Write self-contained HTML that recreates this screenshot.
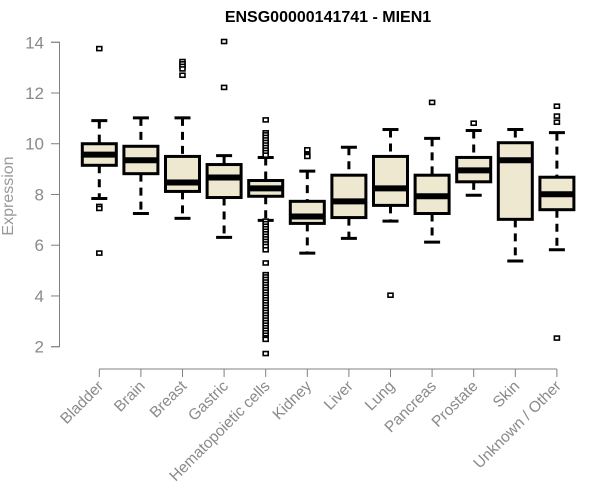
<!DOCTYPE html>
<html><head><meta charset="utf-8"><style>
body{margin:0;background:#fff}
svg{display:block;font-family:"Liberation Sans",Arial,sans-serif}
</style></head><body>
<svg id="chart" width="600" height="500" viewBox="0 0 600 500">
<text x="328" y="22" text-anchor="middle" font-weight="bold" font-size="16" fill="#000">ENSG00000141741 - MIEN1</text>
<text transform="translate(13,196) rotate(-90)" text-anchor="middle" font-size="16" fill="#999">Expression</text>
<g id="axes"></g><g id="marks"></g>
</svg>
<script>
const categories=["Bladder","Brain","Breast","Gastric","Hematopoietic cells","Kidney","Liver","Lung","Pancreas","Prostate","Skin","Unknown / Other"];
const whiskerLow=[7.84,7.25,7.06,6.31,6.98,5.69,6.27,6.95,6.12,7.97,5.38,5.82];
const q1=[9.15,8.82,8.12,7.88,7.93,6.86,7.09,7.57,7.25,8.5,7.02,7.4];
const medians=[9.57,9.35,8.47,8.67,8.24,7.13,7.73,8.24,7.93,8.95,9.35,8.01];
const q3=[10.0,9.9,9.5,9.18,8.55,7.73,8.76,9.5,8.76,9.46,10.04,8.68];
const whiskerHigh=[10.91,11.02,11.02,9.53,9.46,8.92,9.86,10.56,10.21,10.52,10.56,10.44];
const outliers=[
 [13.75,7.53,7.45,5.69],
 [],
 [13.24,13.15,13.05,12.95,12.7],
 [14.03,12.22],
 [10.94,10.43,10.35,10.25,10.15,10.05,9.95,9.85,9.75,9.65,9.55,6.95,6.85,6.75,6.65,6.55,6.45,6.35,6.25,6.15,6.05,5.95,5.82,5.3,4.84,4.75,4.65,4.55,4.45,4.35,4.25,4.15,4.05,3.95,3.85,3.75,3.65,3.55,3.45,3.35,3.25,3.15,3.05,2.95,2.85,2.75,2.65,2.55,2.45,2.35,2.29,1.73],
 [9.76,9.55,9.5],
 [],
 [4.03],
 [11.63],
 [10.81],
 [],
 [11.48,11.09,10.85,2.34]
];
const yTicks=[2,4,6,8,10,12,14];
const NS="http://www.w3.org/2000/svg";
const y=v=>346.7-(v-2)*25.37;
const x=i=>99.3+i*41.6;
const axes=document.getElementById('axes'),marks=document.getElementById('marks');
function mk(tag,attrs,parent){const e=document.createElementNS(NS,tag);for(const k in attrs)e.setAttribute(k,attrs[k]);parent.appendChild(e);return e;}
let ya=mk('path',{d:`M51,${y(14)}H59.5V${y(2)}H51`,stroke:'#808080',fill:'none','stroke-width':1},axes);


yTicks.forEach(t=>{
 const l=mk('line',{x1:51,x2:59.5,y1:y(t),y2:y(t),stroke:'#808080'},axes);
 
 
 const tx=mk('text',{x:44,y:y(t)+6,'text-anchor':'end','font-size':17,fill:'#8a8a8a'},axes);
 tx.textContent=t;
 
 
});
let xa=mk('line',{x1:x(0),x2:x(categories.length-1),y1:369,y2:369,stroke:'#808080'},axes);


categories.forEach((c,i)=>{
 const l=mk('line',{x1:x(i),x2:x(i),y1:369,y2:377,stroke:'#808080'},axes);
 
 
 const tx=mk('text',{transform:`translate(${x(i)+5},${387}) rotate(-45)`,'text-anchor':'end','font-size':15.5,fill:'#8a8a8a'},axes);
 tx.textContent=c;
 
 
});
const hw=17,cw=8;
categories.forEach((c,i)=>{
 const cx=x(i);
 const g=mk('g',{},marks);
 
 
 mk('line',{x1:cx,x2:cx,y1:y(whiskerHigh[i]),y2:y(q3[i]),stroke:'#000','stroke-width':3,'stroke-dasharray':'8,6'},g);
 mk('line',{x1:cx,x2:cx,y1:y(q1[i]),y2:y(whiskerLow[i]),stroke:'#000','stroke-width':3,'stroke-dasharray':'8,6'},g);
 mk('line',{x1:cx-cw,x2:cx+cw,y1:y(whiskerHigh[i]),y2:y(whiskerHigh[i]),stroke:'#000','stroke-width':3},g);
 mk('line',{x1:cx-cw,x2:cx+cw,y1:y(whiskerLow[i]),y2:y(whiskerLow[i]),stroke:'#000','stroke-width':3},g);
 mk('rect',{x:cx-hw,y:y(q3[i]),width:2*hw,height:y(q1[i])-y(q3[i]),fill:'#ede8cf',stroke:'#000','stroke-width':3},g);
 mk('line',{x1:cx-hw,x2:cx+hw,y1:y(medians[i]),y2:y(medians[i]),stroke:'#000','stroke-width':6},g);
 outliers[i].forEach(v=>{
  const r=mk('rect',{x:cx-2.5,y:y(v)-2,width:5,height:4,fill:'#fff',stroke:'#000','stroke-width':1.6},g);
  
  
 });
});
</script>
</body></html>
